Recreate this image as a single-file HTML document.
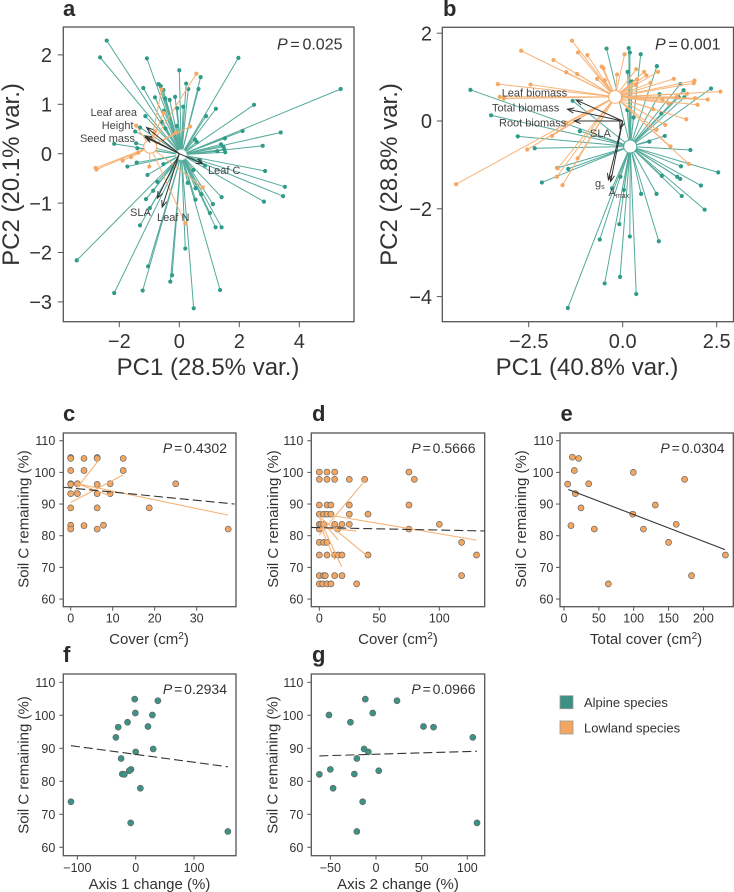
<!DOCTYPE html>
<html lang="en">
<head>
<meta charset="utf-8">
<title>Plant trait PCA and soil carbon panels</title>
<style>
html,body{margin:0;padding:0;background:#fff;width:734px;height:892px;overflow:hidden}
svg{display:block}
text{font-family:"Liberation Sans",Arial,sans-serif;fill:#333}
.letter{font-size:22px;font-weight:bold;fill:#2b2b2b}
.big{font-size:24px;text-anchor:middle}
.mid{font-size:15px;text-anchor:middle}
.pv{font-size:16px;text-anchor:end;word-spacing:-1.7px}
.pvs{font-size:14px;text-anchor:end;word-spacing:-2px}
.vec{font-size:11px;fill:#444}
.leg{font-size:13px}
</style>
</head>
<body>
<svg id="fig" xmlns="http://www.w3.org/2000/svg" width="734" height="892" viewBox="0 0 734 892">
<g id="marks"></g>

<g>
<text class="letter" x="63" y="16">a</text>
<text class="letter" x="443" y="16">b</text>
<text class="letter" x="63" y="421">c</text>
<text class="letter" x="312" y="421">d</text>
<text class="letter" x="560.5" y="421">e</text>
<text class="letter" x="63" y="662">f</text>
<text class="letter" x="312" y="662">g</text>
</g>

<g>
<text class="big" x="208" y="375">PC1 (28.5% var.)</text>
<text class="big" transform="translate(19,174.5) rotate(-90)">PC2 (20.1% var.)</text>
<text class="big" x="587" y="375">PC1 (40.8% var.)</text>
<text class="big" transform="translate(397,174.5) rotate(-90)">PC2 (28.8% var.)</text>
<text class="mid" x="149" y="644">Cover (cm<tspan dy="-5" font-size="10">2</tspan><tspan dy="5">)</tspan></text>
<text class="mid" x="398" y="644">Cover (cm<tspan dy="-5" font-size="10">2</tspan><tspan dy="5">)</tspan></text>
<text class="mid" x="646" y="644">Total cover (cm<tspan dy="-5" font-size="10">2</tspan><tspan dy="5">)</tspan></text>
<text class="mid" x="149.5" y="889">Axis 1 change (%)</text>
<text class="mid" x="398" y="889">Axis 2 change (%)</text>
<text class="mid" transform="translate(28.7,519) rotate(-90)">Soil C remaining (%)</text>
<text class="mid" transform="translate(278,519) rotate(-90)">Soil C remaining (%)</text>
<text class="mid" transform="translate(526,519) rotate(-90)">Soil C remaining (%)</text>
<text class="mid" transform="translate(28.7,765) rotate(-90)">Soil C remaining (%)</text>
<text class="mid" transform="translate(277.7,765) rotate(-90)">Soil C remaining (%)</text>
</g>

<g>
<text class="pv" x="342.5" y="49.5"><tspan font-style="italic">P</tspan> = 0.025</text>
<text class="pv" x="720.5" y="49.5"><tspan font-style="italic">P</tspan> = 0.001</text>
<text class="pvs" x="227" y="453"><tspan font-style="italic">P</tspan> = 0.4302</text>
<text class="pvs" x="475.5" y="453"><tspan font-style="italic">P</tspan> = 0.5666</text>
<text class="pvs" x="724.5" y="453"><tspan font-style="italic">P</tspan> = 0.0304</text>
<text class="pvs" x="227" y="694"><tspan font-style="italic">P</tspan> = 0.2934</text>
<text class="pvs" x="475.5" y="694"><tspan font-style="italic">P</tspan> = 0.0966</text>
</g>

<g>
<text class="vec" x="137" y="116" text-anchor="end">Leaf area</text>
<text class="vec" x="133.5" y="129" text-anchor="end">Height</text>
<text class="vec" x="135" y="142" text-anchor="end">Seed mass</text>
<text class="vec" x="208" y="174">Leaf C</text>
<text class="vec" x="130" y="216">SLA</text>
<text class="vec" x="157" y="221">Leaf N</text>
<text class="vec" x="501.7" y="96.5">Leaf biomass</text>
<text class="vec" x="492" y="111.5">Total biomass</text>
<text class="vec" x="499" y="126.5">Root biomass</text>
<text class="vec" x="590" y="137">SLA</text>
<text class="vec" x="595" y="187">g<tspan dy="2" font-size="7">s</tspan></text>
<text class="vec" x="608.5" y="196">A<tspan dy="2" font-size="7">max</tspan></text>
</g>

<g>
<rect x="560" y="695.7" width="13" height="13" fill="#3c9184" stroke="#999" stroke-width="0.8"/>
<text class="leg" x="584" y="707">Alpine species</text>
<rect x="560" y="721" width="13" height="13" fill="#f4a660" stroke="#999" stroke-width="0.8"/>
<text class="leg" x="584" y="732.5">Lowland species</text>
</g>
</svg>

<script>
// ---- Panel a: PCA scores ----
var aAlpinePc1 = [-2.42,-2.64,-1.08,1.97,0,.71,.23,-.69,-.62,-1.2,-.53,.3,.64,-.81,-.47,-.14,-.32,-.51,-.07,.13,1.22,2.49,-1.13,.89,5.38,-1.31,-1.47,-.09,-.59,-.46,2.11,3.38,2.78,1.52,1.39,1.47,1.5,1.53,1.27,.58,.52,-2.17,-1.44,-1.4,-1.73,-1.42,-.53,-1.06,-.73,3.52,2.86,.86,.47,.69,.28,3.46,2.82,1.41,1.12,1.02,1.21,1.41,.54,.73,.54,-.87,-1.11,-.98,-1.31,.2,-1.04,-3.42,-2.17,-1.22,-.24,-.3,1.36,.48];
var aAlpinePc2 = [2.29,1.95,1.93,1.94,1.69,1.55,1.42,1.41,1.37,1.33,1.29,1.31,1.31,1.14,1.12,1.15,1.09,.87,.92,.95,.91,.99,.76,.76,1.31,.53,.45,.56,.65,.51,.46,.43,.16,.31,.19,.14,.09,.03,.05,.24,.29,.2,.21,.11,-.26,-.18,-.21,-.43,-.57,-.67,-.35,-.24,-.33,-.13,-.59,-.86,-.97,-.88,-1.02,-1.2,-1.49,-1.49,-.93,-.82,-.7,-.75,-.92,-1.1,-1.45,-1.92,-2.28,-2.16,-2.82,-2.77,-2.46,-2.59,-2.76,-3.13];
var aLowlandPc1 = [.57,-.59,-.53,.36,-1.44,-.81,-.11,-2.79,-2.76,-1.89,-1.61,-1.37,-1,.78,.2];
var aLowlandPc2 = [1.62,1.3,.83,.55,.57,.45,.43,-.29,-.32,-.14,-.07,.02,-.26,-.68,-1.41];
var aCentroidPc1 = [.07,-.97];
var aCentroidPc2 = [-.02,.14];
var aVectorPc1 = [-1.09,-1.14,-1.13,.78,-.73,-.57];
var aVectorPc2 = [.53,.36,.33,-.2,-.9,-1.08];
var aXTickValues = [-2,0,2,4];
var aXTickLabels = ['\u22122','0','2','4'];
var aYTickValues = [2,1,0,-1,-2,-3];
var aYTickLabels = ['2','1','0','\u22121','\u22122','\u22123'];

// ---- Panel b: PCA scores ----
var bAlpinePc1 = [-.43,.16,.19,.48,.91,.13,.25,1.53,1.62,2.35,.98,1.49,1.64,1.03,.12,.29,1.12,.71,1.8,1.55,2.54,1.04,1.45,1.53,2.08,-4.05,-3.5,-2.79,-2.34,-1.33,-1.14,-1.74,-1.45,-2.15,-.06,2.18,1.57,.9,.49,.96,.19,-.09,-.61,-.48,-.07,.36,-1.46,-.28,.03];
var bAlpinePc2 = [1.65,1.66,1.56,1.52,1.25,1.12,.9,.84,.7,.74,.61,.54,.54,.17,.25,.08,-.34,-.47,-.66,-1.03,-1.17,-1.25,-1.27,-1.32,-1.47,.71,.13,-.35,-.62,.46,-.23,-1.07,-1.09,-1.4,-1.27,-2.02,-1.71,-1.66,-1.66,-2.74,-2.63,-2.35,-2.7,-3.7,-3.55,-3.94,-4.26,-1.53,-1.57];
var bLowlandPc1 = [-1.35,-2.7,-1.19,-.94,-1.84,-1.5,-1.21,-.56,-.51,.05,-.15,-.68,-.48,.36,.57,.63,.94,.38,.74,.35,1.36,1.91,1.89,-3.32,-2.45,-3.27,-3.16,2.6,1.71,1.44,1.22,1.93,2.26,1.99,1.06,.81,1.69,1.13,.9,1.27,1.76,-1.88,-1.51,-2.54,-1.2,-1.73,-1.75,-1.6,-4.43];
var bLowlandPc2 = [1.83,1.6,1.56,1.5,1.39,1.11,1.07,1.24,1.2,1.52,1.06,.96,.93,1.18,1.12,1.04,1.12,.95,.87,.82,.96,.92,.86,.84,.83,.55,.51,.67,.62,.55,.4,.52,.49,.37,.49,.27,.04,-.09,-.2,-.58,-.98,-.34,-.04,-.65,-.85,-1.08,-1.27,-1.46,-1.44];
var bCentroidPc1 = [.2,-.2];
var bCentroidPc2 = [-.58,.55];
var bVectorPc1 = [-1.24,-1.47,-1.29,-.07,-.38,-.32];
var bVectorPc2 = [.48,.27,0,-.17,-1.34,-1.38];
var bXTickValues = [-2.5,0,2.5];
var bXTickLabels = ['\u22122.5','0.0','2.5'];
var bYTickValues = [2,0,-2,-4];
var bYTickLabels = ['2','0','\u22122','\u22124'];

// ---- Panel c ----
var cCover = [0,0,3.17,6.3,6.3,12.5,0,3.17,12.5,0,0,1.6,6.3,9.4,25,0,1.6,6.3,9.4,0,6.3,18.7,0,0,3.17,7.8,6.3,37.5];
var cSoilC = [104.7,104.4,104.4,104.7,104.4,104.4,100.6,100.6,100.6,96.4,96.2,96.4,96.2,96.4,96.4,93.3,93.3,93.3,93.3,88.8,88.8,88.8,83.3,82.1,83.2,83.3,82.1,82.1];
var cSpeciesLineX0 = [0,0,1.4,1.3];
var cSpeciesLineX1 = [6.7,12.5,9.4,37.5];
var cSpeciesLineY0 = [92.6,90.5,96.5,96.5];
var cSpeciesLineY1 = [103.9,99.2,92.6,86.5];
var cFitX = [-1.75,39];
var cFitY = [95.3,90];
var cXTickValues = [0,10,20,30];

// ---- Panel d ----
var dCover = [0,6.4,12.8,74.7,0,6.4,12.8,25,37.8,79.2,0,6.4,9.7,25,74.7,0,3.6,6.4,9.7,25,40.6,0,1.4,3.6,12.8,18.9,25,100,0,15.3,74.7,0,3.6,6.4,118.6,0,6.4,12.8,15.8,18.9,40.6,131,0,3.6,5,12.8,18.9,118.6,0,2.8,6.4,9.7,31.1];
var dSoilC = [100.1,100.1,100.1,100.1,97.8,97.8,97.8,97.8,97.8,97.8,89.7,89.7,89.7,89.7,89.7,86.8,86.8,86.8,86.8,86.8,86.8,83.6,83.6,83.6,83.6,83.6,83.6,83.6,82.1,82.1,82.1,77.9,77.9,77.9,77.9,73.9,73.9,73.9,73.9,73.9,73.9,73.9,67.4,67.4,67.4,67.4,67.4,67.4,64.8,64.8,64.8,64.8,64.8];
var dSpeciesLineX0 = [0,.5,8.9,0,0,1.9,1.9];
var dSpeciesLineX1 = [37.8,31,131,40.6,15.8,18.6,13];
var dSpeciesLineY0 = [80.2,82.5,86.5,86,85.5,83.9,82.3];
var dSpeciesLineY1 = [97.3,81.5,78.6,73.4,78.7,70.2,72.3];
var dFitX = [-6.7,137.5];
var dFitY = [82.6,81.5];
var dXTickValues = [0,50,100];

// ---- Panel e ----
var eTotalCover = [5.3,12,21,14.8,35.4,16.3,24.4,10,43.5,63.6,99.5,98.6,131,114,161,150,173,183,231.6];
var eSoilC = [96.3,104.8,104.4,100.6,96.4,93.3,88.8,83.2,82.1,64.8,100,86.8,89.7,82.1,83.6,77.9,97.8,67.4,73.9];
var eFitX = [6.2,231];
var eFitY = [94.6,75.6];
var eXTickValues = [0,50,100,150,200];

// ---- Panel f ----
var fAxis1Change = [-1.7,38,-.6,28.6,-14,21,-30,-34,0,30,-25,-8,-11,-23,-19.5,8,-111,-8.6,158];
var fSoilC = [104.9,104.4,100.7,100.1,97.9,96.6,96.4,93.3,88.9,89.8,86.9,83.6,83.2,82.2,82.1,77.9,73.8,67.4,64.8];
var fFitX = [-111,158];
var fFitY = [90.8,84.4];
var fXTickValues = [-100,0,100];
var fXTickLabels = ['\u2212100','0','100'];

// ---- Panel g ----
var gAxis2Change = [-11.7,23,-51.5,-3.6,-28,52,63,106,-13,-8.4,-21,-50,3,-62,-23.7,-47,-14.6,110.6,-21];
var gSoilC = [104.9,104.4,100.1,100.7,97.9,96.6,96.4,93.3,89.8,88.9,86.9,83.6,83.2,82.1,82.2,77.9,73.8,67.4,64.8];
var gFitX = [-62,110.6];
var gFitY = [87.7,89.1];
var gXTickValues = [-50,0,50,100];
var gXTickLabels = ['\u221250','0','50','100'];

var soilYTickValues = [110,100,90,80,70,60];

var NS = 'http://www.w3.org/2000/svg';
var root = document.getElementById('marks');
var TEAL = '#2f9b88', TEAL_LINE = '#53aa9b', ORANGE = '#f5a862', ORANGE_LINE = '#f7b377';

function mk(tag, attrs, parent) {
  var el = document.createElementNS(NS, tag);
  for (var k in attrs) el.setAttribute(k, attrs[k]);
  (parent || root).appendChild(el);
  return el;
}
function linear(pxAtZero, pxPerUnit) {
  return function (v) { return pxAtZero + v * pxPerUnit; };
}
function drawFrame(id, box) {
  var el = mk('rect', {x: box[0], y: box[1], width: box[2] - box[0], height: box[3] - box[1], fill: '#fff', stroke: '#555', 'stroke-width': 1.3});
  
  
}
function drawAxes(id, box, sx, sy, xVals, xLabels, yVals, yLabels, fs, xLabelY, yLabelX, tick) {
  xVals.forEach(function (v, i) {
    var t = mk('line', {x1: sx(v), x2: sx(v), y1: box[3], y2: box[3] + tick, stroke: '#555', 'stroke-width': 1});
    
    
    var l = mk('text', {x: sx(v), y: xLabelY, 'text-anchor': 'middle', 'font-size': fs});
    
    
    l.textContent = xLabels[i];
  });
  yVals.forEach(function (v, i) {
    var t = mk('line', {x1: box[0] - tick, x2: box[0], y1: sy(v), y2: sy(v), stroke: '#555', 'stroke-width': 1});
    
    
    var l = mk('text', {x: yLabelX, y: sy(v) + fs * 0.36, 'text-anchor': 'end', 'font-size': fs});
    
    
    l.textContent = yLabels[i];
  });
}
function drawSpokes(id, group, sx, sy, xs, ys, cx, cy, lineColor, dotColor) {
  xs.forEach(function (v, i) {
    var ln = mk('line', {x1: sx(cx), y1: sy(cy), x2: sx(v), y2: sy(ys[i]), stroke: lineColor, 'stroke-width': 1});
    
    
  });
  xs.forEach(function (v, i) {
    var d = mk('circle', {cx: sx(v), cy: sy(ys[i]), r: 2.1, fill: dotColor});
    
    
  });
}
function drawCentroid(id, group, sx, sy, x, y, r, color) {
  var c = mk('circle', {cx: sx(x), cy: sy(y), r: r, fill: '#fff', stroke: color, 'stroke-width': 1});
  
  
}
function drawVectors(id, sx, sy, xs, ys) {
  xs.forEach(function (v, i) {
    var x0 = sx(0), y0 = sy(0), x1 = sx(v), y1 = sy(ys[i]);
    var ang = Math.atan2(y1 - y0, x1 - x0), h = 7, w = 0.38;
    var d = 'M' + x0 + ' ' + y0 + 'L' + x1 + ' ' + y1 +
      'M' + (x1 - h * Math.cos(ang - w)) + ' ' + (y1 - h * Math.sin(ang - w)) + 'L' + x1 + ' ' + y1 +
      'L' + (x1 - h * Math.cos(ang + w)) + ' ' + (y1 - h * Math.sin(ang + w));
    var p = mk('path', {d: d, fill: 'none', stroke: '#333', 'stroke-width': 1});
    
    
  });
}
function drawDots(id, sx, sy, xs, ys, fill) {
  xs.forEach(function (v, i) {
    var d = mk('circle', {cx: sx(v), cy: sy(ys[i]), r: 3, fill: fill, stroke: '#666', 'stroke-width': 0.7});
    
    
  });
}
function drawSegments(id, sx, sy, x0, x1, y0, y1) {
  x0.forEach(function (v, i) {
    var ln = mk('line', {x1: sx(v), y1: sy(y0[i]), x2: sx(x1[i]), y2: sy(y1[i]), stroke: ORANGE_LINE, 'stroke-width': 1.1});
    
    
  });
}
function drawFit(id, sx, sy, xs, ys, dashed) {
  var ln = mk('line', {x1: sx(xs[0]), y1: sy(ys[0]), x2: sx(xs[1]), y2: sy(ys[1]), stroke: '#333', 'stroke-width': 1.1});
  if (dashed) ln.setAttribute('stroke-dasharray', '9 4');
  
  
}
function yScale(py110, k) {
  return function (v) { return py110 + (110 - v) * k; };
}
function labels(vals) {
  return vals.map(function (v) { return String(v); });
}

// Panel a
(function () {
  var box = [63.3, 27, 354, 321.7], sx = linear(179.3, 30), sy = linear(153.7, -49.4);
  drawFrame('a', box);
  drawAxes('a', box, sx, sy, aXTickValues, aXTickLabels, aYTickValues, aYTickLabels, 20, 348, 52, 5.5);
  drawSpokes('a', 'alpine', sx, sy, aAlpinePc1, aAlpinePc2, aCentroidPc1[0], aCentroidPc2[0], TEAL_LINE, TEAL);
  drawSpokes('a', 'lowland', sx, sy, aLowlandPc1, aLowlandPc2, aCentroidPc1[1], aCentroidPc2[1], ORANGE_LINE, ORANGE);
  drawCentroid('a', 'alpine', sx, sy, aCentroidPc1[0], aCentroidPc2[0], 5, '#d8ece8');
  drawCentroid('a', 'lowland', sx, sy, aCentroidPc1[1], aCentroidPc2[1], 6.5, ORANGE);
  drawVectors('a', sx, sy, aVectorPc1, aVectorPc2);
})();

// Panel b
(function () {
  var box = [442.3, 27.3, 733.5, 321.7], sx = linear(622.7, 37.6), sy = linear(121, -43.9);
  drawFrame('b', box);
  drawAxes('b', box, sx, sy, bXTickValues, bXTickLabels, bYTickValues, bYTickLabels, 20, 348, 432, 5.5);
  drawSpokes('b', 'alpine', sx, sy, bAlpinePc1, bAlpinePc2, bCentroidPc1[0], bCentroidPc2[0], TEAL_LINE, TEAL);
  drawSpokes('b', 'lowland', sx, sy, bLowlandPc1, bLowlandPc2, bCentroidPc1[1], bCentroidPc2[1], ORANGE_LINE, ORANGE);
  drawCentroid('b', 'alpine', sx, sy, bCentroidPc1[0], bCentroidPc2[0], 6.5, TEAL_LINE);
  drawCentroid('b', 'lowland', sx, sy, bCentroidPc1[1], bCentroidPc2[1], 6.5, ORANGE);
  drawVectors('b', sx, sy, bVectorPc1, bVectorPc2);
})();

// Panels c, d, e share one y axis scale
var topY = yScale(440.7, 3.167), botY = yScale(682.3, 3.3);
var topTickLabels = labels(soilYTickValues);

(function () {
  var box = [63.3, 433, 236, 606.7], sx = linear(70.7, 4.2);
  drawFrame('c', box);
  drawAxes('c', box, sx, topY, cXTickValues, labels(cXTickValues), soilYTickValues, topTickLabels, 12.5, 622.5, 55.3, 4);
  drawDots('c', sx, topY, cCover, cSoilC, '#f4a660');
  drawSegments('c', sx, topY, cSpeciesLineX0, cSpeciesLineX1, cSpeciesLineY0, cSpeciesLineY1);
  drawFit('c', sx, topY, cFitX, cFitY, true);
})();
(function () {
  var box = [311.3, 433, 484.7, 606.7], sx = linear(319.3, 1.2);
  drawFrame('d', box);
  drawAxes('d', box, sx, topY, dXTickValues, labels(dXTickValues), soilYTickValues, topTickLabels, 12.5, 622.5, 303.3, 4);
  drawDots('d', sx, topY, dCover, dSoilC, '#f4a660');
  drawSegments('d', sx, topY, dSpeciesLineX0, dSpeciesLineX1, dSpeciesLineY0, dSpeciesLineY1);
  drawFit('d', sx, topY, dFitX, dFitY, true);
})();
(function () {
  var box = [560, 433, 733.3, 606.7], sx = linear(564, 0.697);
  drawFrame('e', box);
  drawAxes('e', box, sx, topY, eXTickValues, labels(eXTickValues), soilYTickValues, topTickLabels, 12.5, 622.5, 553.3, 4);
  drawDots('e', sx, topY, eTotalCover, eSoilC, '#f4a660');
  drawFit('e', sx, topY, eFitX, eFitY, false);
})();
(function () {
  var box = [63.3, 674, 236, 855.7], sx = linear(135.7, 0.5833);
  drawFrame('f', box);
  drawAxes('f', box, sx, botY, fXTickValues, fXTickLabels, soilYTickValues, topTickLabels, 12.5, 872, 55.3, 4);
  drawDots('f', sx, botY, fAxis1Change, fSoilC, '#3a9385');
  drawFit('f', sx, botY, fFitX, fFitY, true);
})();
(function () {
  var box = [311.3, 674, 484.7, 855.7], sx = linear(376, 0.9133);
  drawFrame('g', box);
  drawAxes('g', box, sx, botY, gXTickValues, gXTickLabels, soilYTickValues, topTickLabels, 12.5, 872, 303.3, 4);
  drawDots('g', sx, botY, gAxis2Change, gSoilC, '#3a9385');
  drawFit('g', sx, botY, gFitX, gFitY, true);
})();
</script>
</body>
</html>
